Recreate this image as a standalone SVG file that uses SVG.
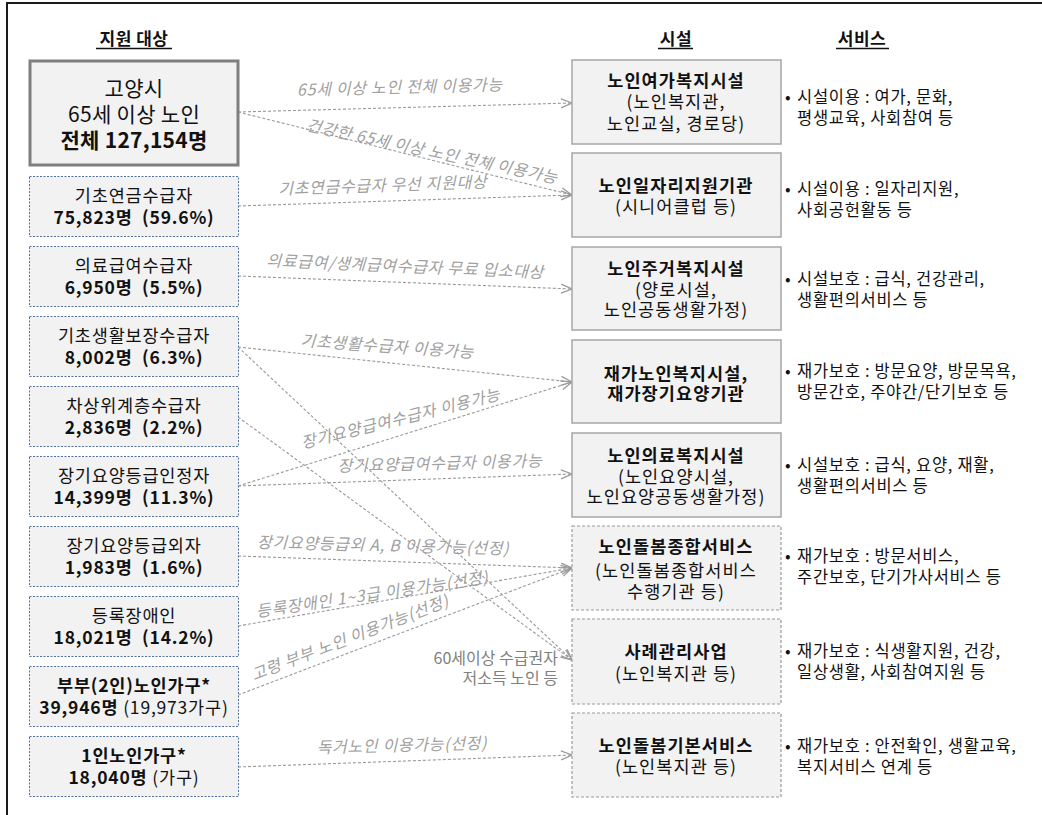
<svg xmlns="http://www.w3.org/2000/svg" width="1042" height="815" viewBox="0 0 1042 815">
<defs>
<style>
text{font-family:"Noto Sans CJK KR","Noto Sans",sans-serif;fill:#111}
.hd{font-size:17px;font-weight:bold;text-anchor:middle;letter-spacing:0.5px}
.big{font-size:21px;text-anchor:middle;letter-spacing:0.3px}
.lt{font-size:17.5px;text-anchor:middle;letter-spacing:0.8px}
.rt{font-size:17.5px;text-anchor:middle;letter-spacing:1.1px}
.b{font-weight:bold}
.n{font-weight:normal}
.sv{font-size:16.5px;letter-spacing:0.7px}
.lab{font-size:16px;font-style:italic;fill:#a0a0a0;text-anchor:middle;letter-spacing:0.7px}
.note{font-size:16px;fill:#808080;text-anchor:end}
.bigbox{fill:#f2f2f2;stroke:#7f7f7f;stroke-width:3}
.lbox{fill:#f2f2f2;stroke:#52709e;stroke-width:1;stroke-dasharray:2 1.5}
.rbox{fill:#f2f2f2;stroke:#a6a6a6;stroke-width:1.5}
.rboxd{fill:#f2f2f2;stroke:#9a9a9a;stroke-width:1.2;stroke-dasharray:3 2}
.conn{fill:none;stroke:#9a9a9a;stroke-width:1.1;stroke-dasharray:3 2;marker-end:url(#arr)}
.ul{stroke:#111;stroke-width:1.3}
</style>
<marker id="arr" markerUnits="userSpaceOnUse" markerWidth="14" markerHeight="12" refX="12" refY="5" orient="auto" viewBox="0 0 14 10">
<path d="M1,0.5 L12,5 L1,9.5" fill="none" stroke="#9a9a9a" stroke-width="1.3"/>
</marker>
</defs>
<rect width="1042" height="815" fill="#ffffff"/>
<path d="M7,815 L7,3 L1042,3" fill="none" stroke="#1a1a1a" stroke-width="2"/>

<g id="headers">
<text class="hd" x="134" y="45">지원 대상</text>
<line class="ul" x1="96" y1="48.5" x2="172" y2="48.5"/>
<text class="hd" x="676" y="45">시설</text>
<line class="ul" x1="658" y1="48.5" x2="693" y2="48.5"/>
<text class="hd" x="862" y="45">서비스</text>
<line class="ul" x1="836" y1="48.5" x2="889" y2="48.5"/>
</g>

<g id="connectors">
<line class="conn" x1="238" y1="112" x2="572" y2="103"/>
<line class="conn" x1="238" y1="112" x2="572" y2="195"/>
<line class="conn" x1="238" y1="206" x2="572" y2="195"/>
<line class="conn" x1="238" y1="276" x2="572" y2="289"/>
<line class="conn" x1="238" y1="347" x2="572" y2="382"/>
<line class="conn" x1="238" y1="347" x2="572" y2="660"/>
<line class="conn" x1="238" y1="417" x2="572" y2="660"/>
<line class="conn" x1="238" y1="486" x2="572" y2="382"/>
<line class="conn" x1="238" y1="486" x2="572" y2="474"/>
<line class="conn" x1="238" y1="556" x2="572" y2="568"/>
<line class="conn" x1="238" y1="626" x2="572" y2="568"/>
<line class="conn" x1="238" y1="695" x2="572" y2="568"/>
<line class="conn" x1="238" y1="767" x2="572" y2="755"/>
<text class="lab" transform="translate(400,93) rotate(-1.5)">65세 이상 노인 전체 이용가능</text>
<text class="lab" transform="translate(431,157) rotate(12)">건강한 65세 이상 노인 전체 이용가능</text>
<text class="lab" transform="translate(383,191) rotate(-2)">기초연금수급자 우선 지원대상</text>
<text class="lab" transform="translate(405,272) rotate(2.5)">의료급여/생계급여수급자 무료 입소대상</text>
<text class="lab" transform="translate(387,352) rotate(4)">기초생활수급자 이용가능</text>
<text class="lab" transform="translate(402,424) rotate(-14)">장기요양급여수급자 이용가능</text>
<text class="lab" transform="translate(440,469) rotate(-1.5)">장기요양급여수급자 이용가능</text>
<text class="lab" transform="translate(383,551) rotate(1.5)">장기요양등급외 A, B 이용가능(선정)</text>
<text class="lab" transform="translate(373,600) rotate(-8.5)">등록장애인 1~3급 이용가능(선정)</text>
<text class="lab" transform="translate(352,643) rotate(-21)">고령 부부 노인 이용가능(선정)</text>
<text class="lab" transform="translate(402,751) rotate(-1.5)">독거노인 이용가능(선정)</text>
<text class="note" x="558" y="664">60세이상 수급권자</text>
<text class="note" x="558" y="684">저소득 노인 등</text>
</g>

<g id="n-total">
<rect class="bigbox" x="30" y="61" width="208" height="104"/>
<text class="big" x="134" y="96">고양시</text>
<text class="big" x="134" y="122">65세 이상 노인</text>
<text class="big b" x="134" y="148">전체 127,154명</text>
</g>
<g id="n-basic-pension">
<rect class="lbox" x="29.5" y="176.5" width="209" height="60"/>
<text class="lt" x="134" y="202">기초연금수급자</text>
<text class="lt b" x="134" y="224">75,823명&#160; (59.6%)</text>
</g>
<g id="n-medical">
<rect class="lbox" x="29.5" y="246.5" width="209" height="60"/>
<text class="lt" x="134" y="272">의료급여수급자</text>
<text class="lt b" x="134" y="294">6,950명&#160; (5.5%)</text>
</g>
<g id="n-livelihood">
<rect class="lbox" x="29.5" y="316.5" width="209" height="60"/>
<text class="lt" x="134" y="342">기초생활보장수급자</text>
<text class="lt b" x="134" y="364">8,002명&#160; (6.3%)</text>
</g>
<g id="n-near-poor">
<rect class="lbox" x="29.5" y="386.5" width="209" height="60"/>
<text class="lt" x="134" y="412">차상위계층수급자</text>
<text class="lt b" x="134" y="434">2,836명&#160; (2.2%)</text>
</g>
<g id="n-ltc">
<rect class="lbox" x="29.5" y="456.5" width="209" height="60"/>
<text class="lt" x="134" y="482">장기요양등급인정자</text>
<text class="lt b" x="134" y="504">14,399명&#160; (11.3%)</text>
</g>
<g id="n-ltc-out">
<rect class="lbox" x="29.5" y="526.5" width="209" height="60"/>
<text class="lt" x="134" y="552">장기요양등급외자</text>
<text class="lt b" x="134" y="574">1,983명&#160; (1.6%)</text>
</g>
<g id="n-disabled">
<rect class="lbox" x="29.5" y="596.5" width="209" height="60"/>
<text class="lt" x="134" y="622">등록장애인</text>
<text class="lt b" x="134" y="644">18,021명&#160; (14.2%)</text>
</g>
<g id="n-couple">
<rect class="lbox" x="29.5" y="666.5" width="209" height="60"/>
<text class="lt b" x="134" y="692">부부(2인)노인가구*</text>
<text class="lt b" x="134" y="714">39,946명 <tspan class="n">(19,973가구)</tspan></text>
</g>
<g id="n-single">
<rect class="lbox" x="29.5" y="736.5" width="209" height="60"/>
<text class="lt b" x="134" y="762">1인노인가구*</text>
<text class="lt b" x="134" y="784">18,040명 <tspan class="n">(가구)</tspan></text>
</g>

<g id="f-leisure">
<rect class="rbox" x="572" y="60" width="209" height="84"/>
<text class="rt b" x="676" y="87">노인여가복지시설</text>
<text class="rt" x="676" y="108">(노인복지관,</text>
<text class="rt" x="676" y="130">노인교실, 경로당)</text>
<text class="sv" x="785" y="103">•</text>
<text class="sv" x="797" y="103">시설이용 : 여가, 문화,</text>
<text class="sv" x="797" y="124">평생교육, 사회참여 등</text>
</g>
<g id="f-job">
<rect class="rbox" x="572" y="153" width="209" height="84"/>
<text class="rt b" x="676" y="192">노인일자리지원기관</text>
<text class="rt" x="676" y="213">(시니어클럽 등)</text>
<text class="sv" x="785" y="195">•</text>
<text class="sv" x="797" y="195">시설이용 : 일자리지원,</text>
<text class="sv" x="797" y="216">사회공헌활동 등</text>
</g>
<g id="f-housing">
<rect class="rbox" x="572" y="247" width="209" height="83"/>
<text class="rt b" x="676" y="275">노인주거복지시설</text>
<text class="rt" x="676" y="296">(양로시설,</text>
<text class="rt" x="676" y="316">노인공동생활가정)</text>
<text class="sv" x="785" y="285">•</text>
<text class="sv" x="797" y="285">시설보호 : 급식, 건강관리,</text>
<text class="sv" x="797" y="306">생활편의서비스 등</text>
</g>
<g id="f-home">
<rect class="rbox" x="572" y="340" width="209" height="83"/>
<text class="rt b" x="676" y="380">재가노인복지시설,</text>
<text class="rt b" x="676" y="400">재가장기요양기관</text>
<text class="sv" x="785" y="377">•</text>
<text class="sv" x="797" y="377">재가보호 : 방문요양, 방문목욕,</text>
<text class="sv" x="797" y="398">방문간호, 주야간/단기보호 등</text>
</g>
<g id="f-medical">
<rect class="rbox" x="572" y="433" width="209" height="84"/>
<text class="rt b" x="676" y="462">노인의료복지시설</text>
<text class="rt" x="676" y="483">(노인요양시설,</text>
<text class="rt" x="676" y="503">노인요양공동생활가정)</text>
<text class="sv" x="785" y="471">•</text>
<text class="sv" x="797" y="471">시설보호 : 급식, 요양, 재활,</text>
<text class="sv" x="797" y="492">생활편의서비스 등</text>
</g>
<g id="f-comprehensive">
<rect class="rboxd" x="572" y="526" width="209" height="84"/>
<text class="rt b" x="676" y="553">노인돌봄종합서비스</text>
<text class="rt" x="676" y="577">(노인돌봄종합서비스</text>
<text class="rt" x="676" y="598">수행기관 등)</text>
<text class="sv" x="785" y="562">•</text>
<text class="sv" x="797" y="562">재가보호 : 방문서비스,</text>
<text class="sv" x="797" y="583">주간보호, 단기가사서비스 등</text>
</g>
<g id="f-case">
<rect class="rboxd" x="572" y="619" width="209" height="85"/>
<text class="rt b" x="676" y="658">사례관리사업</text>
<text class="rt" x="676" y="680">(노인복지관 등)</text>
<text class="sv" x="785" y="657">•</text>
<text class="sv" x="797" y="657">재가보호 : 식생활지원, 건강,</text>
<text class="sv" x="797" y="678">일상생활, 사회참여지원 등</text>
</g>
<g id="f-basic-care">
<rect class="rboxd" x="572" y="713" width="209" height="84"/>
<text class="rt b" x="676" y="752">노인돌봄기본서비스</text>
<text class="rt" x="676" y="773">(노인복지관 등)</text>
<text class="sv" x="785" y="752">•</text>
<text class="sv" x="797" y="752">재가보호 : 안전확인, 생활교육,</text>
<text class="sv" x="797" y="773">복지서비스 연계 등</text>
</g>
</svg>
